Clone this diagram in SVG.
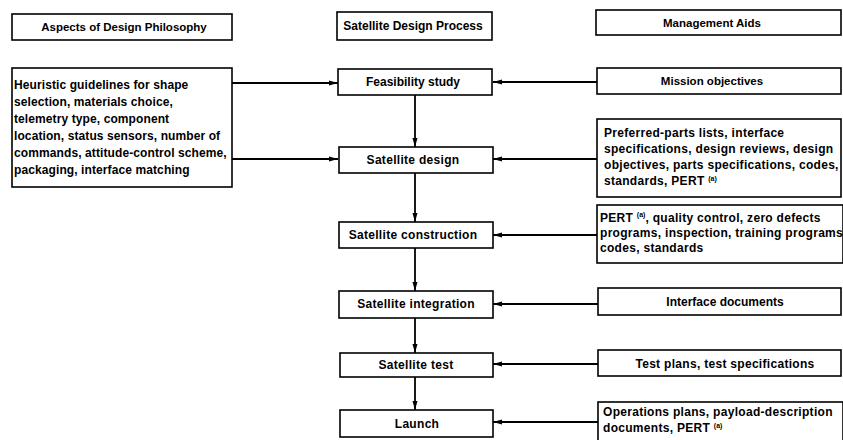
<svg xmlns="http://www.w3.org/2000/svg" width="843" height="440" viewBox="0 0 843 440">
<style>
.box{fill:#fff;stroke:#000;stroke-width:1.6}
.t{font-family:"Liberation Sans",Arial,sans-serif;font-size:12px;font-weight:bold;fill:#000;letter-spacing:0.3px}
.l{letter-spacing:0.1px}
.h{font-size:11.5px;letter-spacing:0}
.s{font-size:11.5px;letter-spacing:0}
.c{text-anchor:middle}
.ln{fill:none;stroke:#000;stroke-width:1.8}
.sup{font-size:7px;letter-spacing:0}
</style>
<defs>
<marker id="ah" markerUnits="userSpaceOnUse" markerWidth="9" markerHeight="6" refX="9" refY="3" orient="auto">
<path d="M0,0.5 L9,3 L0,5.5 z" fill="#000"/>
</marker>
</defs>
<rect width="843" height="440" fill="#fff"/>

<g id="connectors">
<line class="ln" x1="232" y1="83" x2="338" y2="83" marker-end="url(#ah)"/>
<line class="ln" x1="232" y1="159" x2="338" y2="159" marker-end="url(#ah)"/>
<line class="ln" x1="597" y1="82" x2="493" y2="82" marker-end="url(#ah)"/>
<line class="ln" x1="597" y1="159" x2="493" y2="159" marker-end="url(#ah)"/>
<line class="ln" x1="597" y1="235" x2="493" y2="235" marker-end="url(#ah)"/>
<line class="ln" x1="598" y1="304" x2="493" y2="304" marker-end="url(#ah)"/>
<line class="ln" x1="598" y1="364" x2="493" y2="364" marker-end="url(#ah)"/>
<line class="ln" x1="598" y1="422" x2="493" y2="422" marker-end="url(#ah)"/>
<line class="ln" x1="415" y1="95" x2="415" y2="147" marker-end="url(#ah)"/>
<line class="ln" x1="415" y1="173" x2="415" y2="222" marker-end="url(#ah)"/>
<line class="ln" x1="415" y1="248" x2="415" y2="291" marker-end="url(#ah)"/>
<line class="ln" x1="415" y1="318" x2="415" y2="353" marker-end="url(#ah)"/>
<line class="ln" x1="415" y1="377" x2="415" y2="410" marker-end="url(#ah)"/>
</g>

<g id="hdr-aspects">
<rect class="box" x="12" y="14" width="220" height="26"/>
<text class="t h c" x="124" y="31">Aspects of Design Philosophy</text>
</g>
<g id="hdr-process">
<rect class="box" x="337" y="12" width="155" height="28"/>
<text class="t c" x="413" y="30" style="letter-spacing:0">Satellite Design Process</text>
</g>
<g id="hdr-aids">
<rect class="box" x="596" y="10" width="245" height="25"/>
<text class="t s c" x="712" y="27">Management Aids</text>
</g>

<g id="heuristic">
<rect class="box" x="12" y="68" width="220" height="119"/>
<text class="t l" x="14" y="89">Heuristic guidelines for shape</text>
<text class="t l" x="14" y="106">selection, materials choice,</text>
<text class="t l" x="14" y="123">telemetry type, component</text>
<text class="t l" x="14" y="140">location, status sensors, number of</text>
<text class="t l" x="14" y="157">commands, attitude-control scheme,</text>
<text class="t l" x="14" y="174">packaging, interface matching</text>
</g>

<g id="feasibility">
<rect class="box" x="338" y="69" width="154" height="26"/>
<text class="t c" x="413" y="86" style="letter-spacing:0">Feasibility study</text>
</g>
<g id="design">
<rect class="box" x="339" y="147" width="154" height="26"/>
<text class="t c" x="413" y="164">Satellite design</text>
</g>
<g id="construction">
<rect class="box" x="339" y="222" width="154" height="26"/>
<text class="t c" x="413" y="239">Satellite construction</text>
</g>
<g id="integration">
<rect class="box" x="339" y="291" width="154" height="27"/>
<text class="t c" x="416" y="308">Satellite integration</text>
</g>
<g id="test">
<rect class="box" x="340" y="353" width="153" height="24"/>
<text class="t c" x="416" y="369">Satellite test</text>
</g>
<g id="launch">
<rect class="box" x="340" y="410" width="153" height="27"/>
<text class="t c" x="417" y="428">Launch</text>
</g>

<g id="mission">
<rect class="box" x="597" y="68" width="244" height="26"/>
<text class="t s c" x="712" y="85">Mission objectives</text>
</g>
<g id="preferred">
<rect class="box" x="597" y="119" width="244" height="78"/>
<text class="t" x="604" y="137">Preferred-parts lists, interface</text>
<text class="t" x="604" y="153">specifications, design reviews, design</text>
<text class="t" x="604" y="169">objectives, parts specifications, codes,</text>
<text class="t" x="604" y="185">standards, PERT <tspan class="sup" dy="-4">(a)</tspan></text>
</g>
<g id="pert">
<rect class="box" x="597" y="205" width="246" height="58"/>
<text class="t" x="600" y="222">PERT <tspan class="sup" dy="-5">(a)</tspan><tspan dy="5">, quality control, zero defects</tspan></text>
<text class="t" x="600" y="237">programs, inspection, training programs</text>
<text class="t" x="600" y="252">codes, standards</text>
</g>
<g id="interface">
<rect class="box" x="598" y="288" width="243" height="27"/>
<text class="t c" x="725" y="306" style="letter-spacing:0">Interface documents</text>
</g>
<g id="testplans">
<rect class="box" x="598" y="350" width="243" height="26"/>
<text class="t c" x="725" y="368">Test plans, test specifications</text>
</g>
<g id="operations">
<rect class="box" x="598" y="402" width="245" height="45"/>
<text class="t" x="603" y="416">Operations plans, payload-description</text>
<text class="t" x="603" y="432">documents, PERT <tspan class="sup" dy="-4">(a)</tspan></text>
</g>
</svg>
